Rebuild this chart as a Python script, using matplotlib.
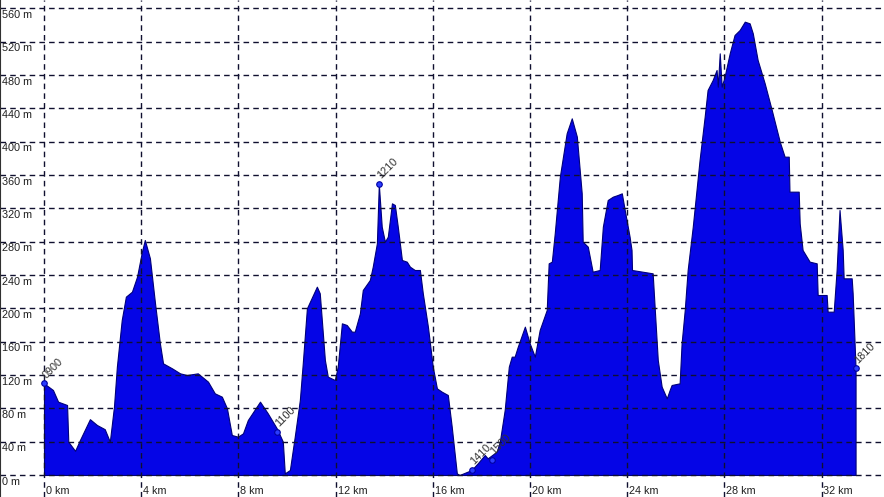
import matplotlib
matplotlib.use('Agg')
import matplotlib.pyplot as plt
import numpy as np

# elevation profile
dist_km = [0.0, 0.37, 0.58, 0.95, 1.0, 1.28, 1.48, 1.89, 2.18, 2.5, 2.71, 2.88, 3.0, 3.2,
           3.37, 3.62, 3.83, 4.03, 4.15, 4.36, 4.57, 4.77, 4.9, 5.27, 5.6, 5.88, 6.33,
           6.75, 7.03, 7.32, 7.53, 7.73, 7.98, 8.19, 8.39, 8.89, 9.21, 9.58, 9.83, 9.91,
           10.12, 10.32, 10.53, 10.65, 10.82, 11.23, 11.35, 11.56, 11.68, 11.97, 12.09,
           12.26, 12.46, 12.67, 12.79, 13.0, 13.12, 13.41, 13.53, 13.7, 13.78, 13.9,
           14.03, 14.15, 14.32, 14.44, 14.56, 14.73, 14.93, 15.06, 15.26, 15.47, 15.59,
           15.8, 16.0, 16.17, 16.37, 16.62, 16.78, 16.99, 17.1, 17.6, 17.85, 18.14,
           18.26, 18.63, 18.76, 18.96, 19.13, 19.25, 19.37, 19.5, 19.79, 19.99, 20.2,
           20.4, 20.69, 20.77, 20.9, 21.02, 21.23, 21.51, 21.72, 21.93, 22.13, 22.17,
           22.38, 22.58, 22.87, 23.0, 23.2, 23.41, 23.61, 23.78, 23.9, 24.1, 24.18,
           24.2, 25.05, 25.13, 25.26, 25.42, 25.63, 25.75, 25.83, 26.16, 26.24, 26.37,
           26.49, 26.7, 26.98, 27.19, 27.31, 27.52, 27.68, 27.73, 27.81, 27.89, 28.01,
           28.22, 28.42, 28.63, 28.84, 29.04, 29.17, 29.37, 29.66, 29.95, 30.28, 30.48,
           30.65, 30.68, 31.06, 31.1, 31.22, 31.51, 31.8, 31.84, 32.21, 32.25, 32.5,
           32.62, 32.74, 32.87, 32.91, 33.24, 33.28, 33.36, 33.4]
elev_m = [110, 102, 88, 84, 40, 29, 42, 67, 60, 55, 40, 82, 130, 186,
          214, 220, 238, 268, 282, 260, 206, 158, 134, 128, 122, 120, 122,
          112, 98, 94, 80, 48, 46, 50, 66, 88, 74, 56, 40, 2,
          6, 46, 90, 134, 200, 226, 218, 138, 118, 114, 130,
          182, 180, 172, 172, 194, 222, 234, 250, 278, 349, 298,
          280, 286, 326, 324, 298, 258, 256, 250, 246, 246, 218,
          178, 130, 104, 100, 96, 58, 2, 0, 6, 14, 24,
          20, 28, 40, 78, 130, 142, 142, 154, 178, 158, 142,
          174, 198, 254, 256, 290, 358, 410, 428, 406, 338, 280,
          274, 244, 246, 298, 330, 334, 336, 338, 318, 286, 270,
          246, 242, 202, 138, 106, 92, 102, 108, 110, 158, 198,
          246, 298, 378, 430, 462, 474, 486, 466, 506, 466, 478,
          506, 528, 534, 544, 542, 530, 498, 470, 438, 400, 382,
          382, 340, 340, 302, 270, 256, 254, 216, 216, 196, 196,
          246, 318, 270, 236, 236, 218, 158, 128]

# waypoints (km, m, label)
wp_km = [0.0, 9.58, 13.78, 17.6, 18.45, 33.4]
wp_m = [110, 52, 349, 6, 18, 128]
wp_label = ['0900', '1100', '1210', '1410', '1500', '1810']

x_ticks = [0, 4, 8, 12, 16, 20, 24, 28, 32]
y_ticks = [0, 40, 80, 120, 160, 200, 240, 280, 320, 360, 400, 440, 480, 520, 560]

plt.rcParams['font.family'] = ['Liberation Sans', 'DejaVu Sans']

fig = plt.figure(figsize=(8.84, 4.97), dpi=100)
ax = fig.add_axes([0, 0, 1, 1])
ax.set_xlim(-1.81, 34.57)
ax.set_ylim(-26.4, 570)

ax.fill_between(dist_km, elev_m, 0, facecolor='#0505e6', edgecolor='#00007a',
                linewidth=0.8, zorder=1)

for xv in x_ticks:
    ax.axvline(xv, color='#101030', lw=1, ls=(0, (4, 3)), zorder=2)
    ax.text(xv + 0.08, -19, '%d km' % xv, fontsize=7.8, color='#202020',
            ha='left', va='center')
for yv in y_ticks:
    ax.axhline(yv, color='#101030', lw=1, ls=(0, (4, 3)), zorder=2)
    ax.text(-1.72, yv - 2, '%d m' % yv, fontsize=7.8, color='#202020',
            ha='left', va='top')

ax.plot(wp_km, wp_m, 'o', ms=4, mfc='#2a3cff', mec='#0000a0', mew=0.8, zorder=3)
for k, m, lab in zip(wp_km, wp_m, wp_label):
    ax.text(k + 0.15, m + 4, lab, fontsize=7.8, color='#303030', rotation=45,
            rotation_mode='anchor', ha='left', va='bottom', zorder=4)

for s in ['top', 'right', 'bottom']:
    ax.spines[s].set_visible(False)
ax.spines['left'].set_color('#303030')
ax.set_xticks([])
ax.set_yticks([])

fig.savefig('out.png', dpi=100)
